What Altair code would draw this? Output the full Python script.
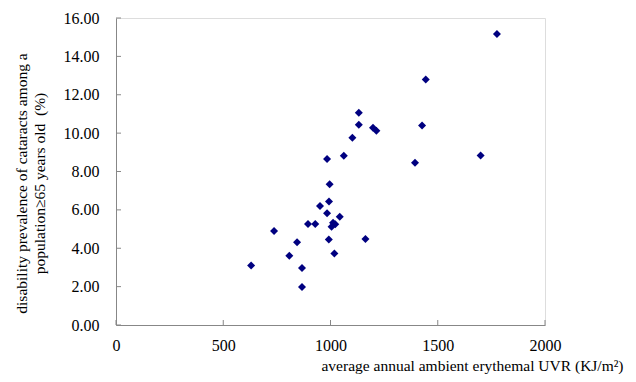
import altair as alt
import pandas as pd

uvr = [630, 737, 808, 844, 867, 867, 895, 929, 951, 984, 992, 993, 996, 984,
       1005, 1012, 1022, 1043, 1018, 1163, 1062, 1102, 1132, 1132, 1198, 1214,
       1394, 1427, 1444, 1700, 1776]
prev = [3.10, 4.90, 3.61, 4.31, 2.97, 1.98, 5.27, 5.27, 6.20, 5.83, 4.46, 6.44, 7.33, 8.65,
        5.12, 5.33, 5.25, 5.64, 3.73, 4.48, 8.82, 9.76, 10.43, 11.06, 10.28, 10.12,
        8.45, 10.40, 12.80, 8.84, 15.16]
x_ticks = [0, 500, 1000, 1500, 2000]
y_ticks = [0, 2, 4, 6, 8, 10, 12, 14, 16]

df = pd.DataFrame({"uvr": uvr, "prev": prev})
dfx = pd.DataFrame({"t": x_ticks})
dfy = pd.DataFrame({"t": y_ticks})

W, H = 429, 307
FONT = "Liberation Serif"
AX = "#878787"

xs = alt.Scale(domain=[0, 2000], nice=False, zero=True)
ys = alt.Scale(domain=[0, 16], nice=False)

axx = alt.Axis(
    values=x_ticks, format="d", grid=False, ticks=False, domainColor=AX,
    labelFont=FONT, labelFontSize=16, labelColor="black", labelPadding=12,
    labelFlush=False, labelOverlap=False,
    title="average annual ambient erythemal UVR (KJ/m²)",
    titleFont=FONT, titleFontSize=15.5, titleFontWeight="normal", titleColor="black",
    titleX=356, titleY=40, titleAlign="center", titleBaseline="middle")
axy = alt.Axis(
    values=y_ticks, format=".2f", grid=False, ticks=False, domainColor=AX,
    labelFont=FONT, labelFontSize=16, labelColor="black", labelPadding=17,
    labelFlush=False, labelOverlap=False,
    title=["disability prevalence of cataracts among a",
           "population≥65 years old\u00a0\u00a0(%)"],
    titleFont=FONT, titleFontSize=15.5, titleFontWeight="normal", titleColor="black",
    titleLineHeight=18, titleX=-102, titleY=165, titleAlign="center",
    titleBaseline="top", titleAngle=270)

points = alt.Chart(df).mark_point(
    shape="diamond", filled=True, size=64, color="#000080", opacity=1
).encode(
    x=alt.X("uvr:Q", scale=xs, axis=axx),
    y=alt.Y("prev:Q", scale=ys, axis=axy),
)

xt = alt.Chart(dfx).mark_rule(color=AX, strokeWidth=1).encode(
    x=alt.X("t:Q", scale=xs, axis=axx), y=alt.value(H), y2=alt.value(H - 5))
yt = alt.Chart(dfy).mark_rule(color=AX, strokeWidth=1).encode(
    y=alt.Y("t:Q", scale=ys, axis=axy), x=alt.value(0), x2=alt.value(5))

chart = alt.layer(points, xt, yt).properties(
    width=W, height=H,
    autosize=alt.AutoSizeParams(type="none"),
    padding={"left": 108, "top": 10, "right": 83, "bottom": 49},
).configure_view(stroke=None).configure(background="white")

chart.save("out.html", embed_options={"renderer": "svg", "actions": False})
